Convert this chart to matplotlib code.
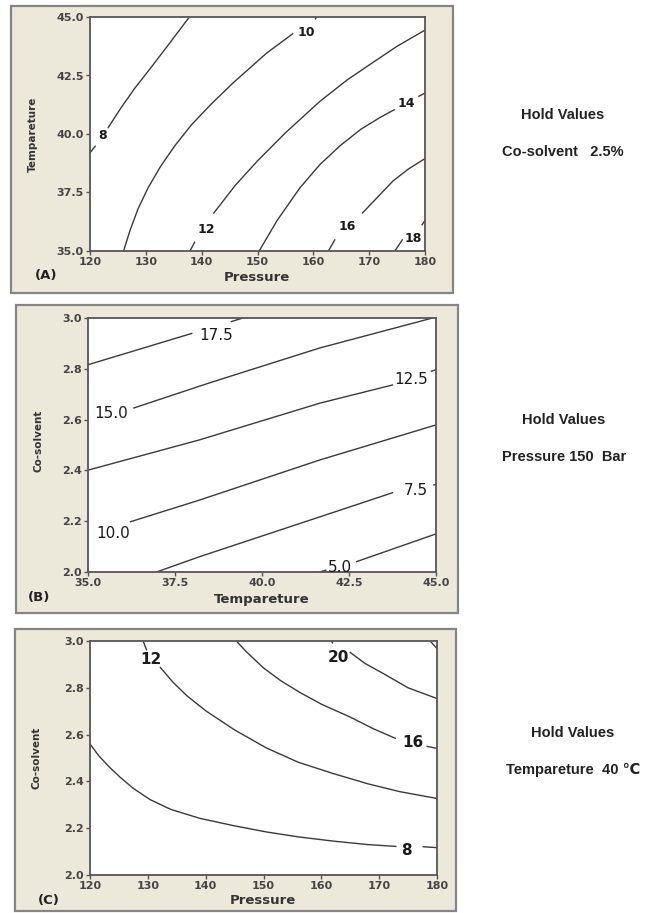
import matplotlib.pyplot as plt
from matplotlib.patches import Rectangle

W, H = 664, 913

# ---- Panel A: Pressure vs Tempareture (co-solvent held) ----
a_xticks = [120, 130, 140, 150, 160, 170, 180]
a_yticks = [35.0, 37.5, 40.0, 42.5, 45.0]
a_c8 = [[(120.0, 39.2), (121.0, 39.5)],
        [(123.2, 40.25), (125.5, 41.1), (128.0, 41.95), (130.8, 42.8), (134.0, 43.8),
         (137.8, 45.0)]]
a_c10 = [[(126.0, 35.0), (127.2, 35.9), (128.6, 36.8), (130.4, 37.7), (132.6, 38.6),
          (135.2, 39.5), (138.2, 40.4), (141.8, 41.3), (145.7, 42.2), (151.6, 43.45),
          (156.4, 44.3)],
         [(160.3, 44.9), (160.6, 45.0)]]
a_c12 = [[(137.9, 35.0), (138.8, 35.4)],
         [(142.1, 36.6), (146.0, 37.8), (150.0, 38.85), (155.0, 40.05), (161.2, 41.4),
          (166.0, 42.3), (170.0, 42.95), (175.0, 43.75), (180.0, 44.44)]]
a_c14 = [[(150.3, 35.0), (153.5, 36.3), (157.6, 37.7), (161.2, 38.7), (164.8, 39.5),
          (168.5, 40.2), (171.9, 40.7), (174.6, 41.05)],
         [(178.8, 41.6), (180.0, 41.75)]]
a_c16 = [[(162.7, 35.0), (163.9, 35.5)],
         [(168.7, 36.6), (171.5, 37.3), (174.3, 38.0), (177.0, 38.5), (180.0, 38.95)]]
a_c18 = [[(174.6, 35.0), (176.0, 35.5)],
         [(179.4, 36.1), (180.0, 36.3)]]
a_labels = ['8', '10', '12', '14', '16', '18']
a_label_x = [122.2, 158.8, 140.9, 176.7, 166.0, 177.9]
a_label_y = [39.95, 44.35, 35.9, 41.3, 36.05, 35.55]

# ---- Panel B: Tempareture vs Co-solvent (pressure held) ----
b_xticks = [35.0, 37.5, 40.0, 42.5, 45.0]
b_yticks = [2.0, 2.2, 2.4, 2.6, 2.8, 3.0]
b_c175 = [[(35.0, 2.816), (36.5, 2.878), (38.0, 2.94)],
          [(39.1, 2.985), (39.45, 3.0)]]
b_c150 = [[(36.3, 2.645), (38.5, 2.745), (41.66, 2.882), (44.9, 3.0)]]
b_c125 = [[(35.0, 2.401), (38.2, 2.52), (41.67, 2.665), (43.77, 2.737)],
          [(44.85, 2.79), (45.0, 2.796)]]
b_c100 = [[(36.2, 2.197), (38.2, 2.283), (41.66, 2.441), (45.0, 2.579)]]
b_c75 = [[(36.97, 2.0), (38.2, 2.06), (41.66, 2.217), (43.77, 2.313)],
         [(44.92, 2.342), (45.0, 2.345)]]
b_c50 = [[(41.66, 2.0), (41.85, 2.008)],
         [(42.7, 2.04), (45.0, 2.15)]]
b_labels = ['17.5', '15.0', '12.5', '10.0', '7.5', '5.0']
b_label_x = [38.67, 35.68, 44.3, 35.73, 44.42, 42.24]
b_label_y = [2.933, 2.625, 2.759, 2.153, 2.32, 2.017]

# ---- Panel C: Pressure vs Co-solvent (tempareture held) ----
c_xticks = [120, 130, 140, 150, 160, 170, 180]
c_yticks = [2.0, 2.2, 2.4, 2.6, 2.8, 3.0]
c_c8 = [[(120.0, 2.56), (121.5, 2.51), (123.2, 2.465), (125.2, 2.418), (127.5, 2.37),
         (130.4, 2.322), (134.0, 2.28), (139.0, 2.242), (145.0, 2.21), (150.5, 2.184),
         (156.0, 2.163), (162.0, 2.145), (168.0, 2.13), (173.0, 2.122)],
        [(177.5, 2.121), (180.0, 2.117)]]
c_c12 = [[(129.2, 3.0), (129.8, 2.96)],
         [(132.1, 2.889), (134.3, 2.825), (136.8, 2.765), (140.0, 2.702), (145.0, 2.62),
          (150.5, 2.543), (156.0, 2.482), (162.0, 2.434), (168.0, 2.39), (173.6, 2.356),
          (180.0, 2.327)]]
c_c16 = [[(145.3, 3.0), (147.0, 2.955), (150.0, 2.885), (153.0, 2.83), (156.3, 2.78),
          (160.0, 2.73), (164.9, 2.676), (169.0, 2.625), (172.9, 2.583)],
         [(178.2, 2.55), (180.0, 2.541)]]
c_c20 = [[(161.7, 3.0), (162.0, 2.99)],
         [(164.9, 2.953), (167.5, 2.905), (170.7, 2.861), (175.0, 2.8), (180.0, 2.754)]]
c_c24 = [[(178.8, 3.0), (180.0, 2.968)]]
c_labels = ['12', '20', '16', '8']
c_label_x = [130.5, 162.9, 175.9, 174.8]
c_label_y = [2.922, 2.929, 2.565, 2.104]

hold_titles = ['Hold Values', 'Hold Values', 'Hold Values']
hold_values = ['Co-solvent   2.5%', 'Pressure 150  Bar', 'Tempareture  40 \u2103']


def fx(px):
    return px / W


def fy(py):
    return 1 - py / H


fig = plt.figure(figsize=(W / 100, H / 100), dpi=100)
fig.patch.set_facecolor('white')


def panel(box, plot, lines, labels, lx, ly, lsize, lweight, xlim, ylim,
          xticks, yticks, xfmt, yfmt, xlabel, ylabel, xlab_pos, ylab_pos,
          letter, letter_pos, hold_pos, hold_idx):
    x0, y0, x1, y1 = box
    fig.patches.append(Rectangle((fx(x0), fy(y1)), fx(x1 - x0), (y1 - y0) / H,
                                 transform=fig.transFigure, facecolor='#ECE9DB',
                                 edgecolor='#858585', lw=1.6, zorder=-5))
    px0, py0, px1, py1 = plot
    ax = fig.add_axes([fx(px0), fy(py1), fx(px1 - px0), (py1 - py0) / H])
    ax.set_zorder(2)
    ax.set_facecolor('white')
    for contour in lines:
        for seg in contour:
            ax.plot([p[0] for p in seg], [p[1] for p in seg], color='#3a3a3a',
                    lw=1.0, solid_capstyle='butt')
    for t, x, y in zip(labels, lx, ly):
        ax.text(x, y, t, ha='center', va='center', fontsize=lsize,
                fontweight=lweight, color='#1a1a1a')
    ax.set_xlim(*xlim)
    ax.set_ylim(*ylim)
    ax.set_xticks(xticks)
    ax.set_yticks(yticks)
    ax.set_xticklabels([xfmt.format(v) for v in xticks])
    ax.set_yticklabels([yfmt.format(v) for v in yticks])
    ax.tick_params(direction='out', length=3, width=1, color='#555555',
                   labelsize=8, labelcolor='#444444')
    ax.tick_params(axis='x', pad=1.5)
    ax.tick_params(axis='y', pad=1.5)
    for lab in ax.get_xticklabels() + ax.get_yticklabels():
        lab.set_fontweight('bold')
    for s in ax.spines.values():
        s.set_color('#555555')
        s.set_linewidth(1.3)
    fig.text(fx(xlab_pos[0]), fy(xlab_pos[1]), xlabel, ha='center', va='center',
             fontsize=9.5, fontweight='bold', color='#333333')
    fig.text(fx(ylab_pos[0]), fy(ylab_pos[1]), ylabel, ha='center', va='center',
             rotation=90, fontsize=7.5, fontweight='bold', color='#333333')
    fig.text(fx(letter_pos[0]), fy(letter_pos[1]), letter, ha='center', va='center',
             fontsize=9.5, fontweight='bold', color='#222222')
    fam = ['Liberation Sans', 'DejaVu Sans']
    fig.text(fx(hold_pos[0]), fy(hold_pos[1]), hold_titles[hold_idx], ha='center',
             va='center', fontsize=10.5, fontweight='bold', color='#222222', family=fam)
    fig.text(fx(hold_pos[0]), fy(hold_pos[1] + 37), hold_values[hold_idx], ha='center',
             va='center', fontsize=10.5, fontweight='bold', color='#222222', family=fam)
    return ax


panel((11, 6, 453, 293), (90, 17, 425, 251),
      [a_c8, a_c10, a_c12, a_c14, a_c16, a_c18], a_labels, a_label_x, a_label_y,
      9, 'bold', (120, 180), (35, 45), a_xticks, a_yticks, '{:.0f}', '{:.1f}',
      'Pressure', 'Tempareture', (257, 277), (33, 134), '(A)', (46, 276), (563, 115), 0)

panel((16, 305, 458, 613), (88, 318, 436, 572),
      [b_c175, b_c150, b_c125, b_c100, b_c75, b_c50], b_labels, b_label_x, b_label_y,
      11, 'normal', (35, 45), (2.0, 3.0), b_xticks, b_yticks, '{:.1f}', '{:.1f}',
      'Tempareture', 'Co-solvent', (262, 600), (38, 441), '(B)', (39, 597), (564, 420), 1)

panel((15, 629, 456, 911), (90, 641, 437, 875),
      [c_c8, c_c12, c_c16, c_c20, c_c24], c_labels, c_label_x, c_label_y,
      11, 'bold', (120, 180), (2.0, 3.0), c_xticks, c_yticks, '{:.0f}', '{:.1f}',
      'Pressure', 'Co-solvent', (263, 900), (37, 758), '(C)', (49, 900), (573, 733), 2)

fig.savefig('out.png', dpi=100, facecolor='white')
